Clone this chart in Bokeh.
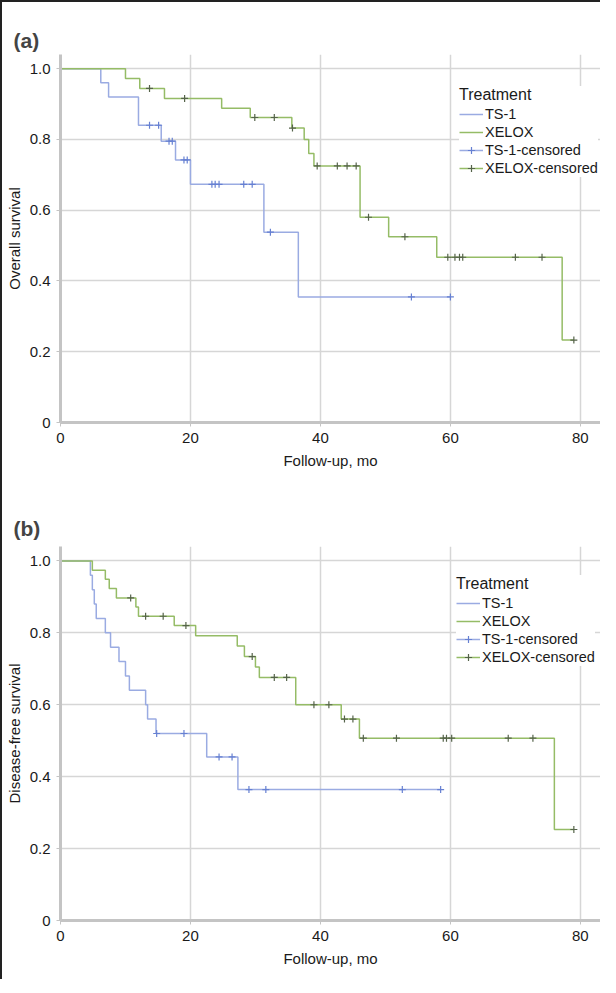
from bokeh.plotting import figure
from bokeh.models import (Range1d, FixedTicker, CustomJSTickFormatter, Legend, LegendItem)
from bokeh.layouts import column
from bokeh.embed import file_html
from bokeh.resources import INLINE

# ---------------- data ----------------
# (a) Overall survival
os_ts1_t = [0, 6.2, 7.4, 12.0, 15.5, 17.7, 20.0, 31.3, 36.6, 60.0]
os_ts1_s = [1.0, 0.96, 0.92, 0.84, 0.795, 0.742, 0.673, 0.538, 0.355, 0.355]
os_ts1_cens_t = [13.7, 15.1, 16.7, 17.2, 19.0, 19.5, 23.3, 23.8, 24.4, 28.2, 29.5, 32.3, 54.0, 60.0]
os_ts1_cens_s = [0.84, 0.84, 0.795, 0.795, 0.742, 0.742, 0.673, 0.673, 0.673, 0.673, 0.673, 0.538, 0.355, 0.355]

os_xel_t = [0, 10.0, 12.2, 16.0, 24.8, 29.2, 35.6, 37.5, 38.2, 39.0, 46.1, 50.5, 57.9, 77.2, 79.0]
os_xel_s = [1.0, 0.972, 0.944, 0.916, 0.888, 0.862, 0.832, 0.80, 0.76, 0.725, 0.58, 0.525, 0.467, 0.233, 0.233]
os_xel_cens_t = [13.7, 19.1, 29.9, 32.9, 35.7, 39.5, 42.6, 44.1, 45.5, 47.4, 53.0, 59.6, 60.7, 61.4, 61.9, 70.0, 74.1, 79.0]
os_xel_cens_s = [0.944, 0.916, 0.862, 0.862, 0.832, 0.725, 0.725, 0.725, 0.725, 0.58, 0.525,
                 0.467, 0.467, 0.467, 0.467, 0.467, 0.467, 0.233]

# (b) Disease-free survival
dfs_ts1_t = [0, 4.6, 4.9, 5.2, 5.5, 6.9, 7.7, 9.0, 10.0, 10.6, 13.1, 13.4, 14.7, 22.5, 27.3, 58.5]
dfs_ts1_s = [1.0, 0.96, 0.92, 0.88, 0.84, 0.80, 0.76, 0.72, 0.68, 0.64, 0.60, 0.56, 0.52, 0.455, 0.364, 0.364]
dfs_ts1_cens_t = [14.8, 19.0, 24.4, 26.4, 29.0, 31.6, 52.6, 58.5]
dfs_ts1_cens_s = [0.52, 0.52, 0.455, 0.455, 0.364, 0.364, 0.364, 0.364]

dfs_xel_t = [0, 4.9, 6.9, 7.5, 8.6, 11.6, 12.0, 17.5, 20.8, 27.2, 28.3, 30.0, 30.6, 36.2, 43.2, 46.0, 76.0, 79.0]
dfs_xel_s = [1.0, 0.974, 0.949, 0.923, 0.897, 0.872, 0.846, 0.82, 0.792, 0.763, 0.734, 0.705, 0.676,
             0.60, 0.56, 0.507, 0.253, 0.253]
dfs_xel_cens_t = [10.8, 13.1, 15.8, 19.3, 29.5, 32.9, 34.8, 39.0, 41.3, 43.7, 45.0, 46.6, 51.7,
                  58.9, 59.4, 60.2, 68.9, 72.7, 79.0]
dfs_xel_cens_s = [0.897, 0.846, 0.846, 0.82, 0.734, 0.676, 0.676, 0.60, 0.60, 0.56, 0.56, 0.507, 0.507,
                  0.507, 0.507, 0.507, 0.507, 0.507, 0.253]

x_ticks = [0, 20, 40, 60, 80]
y_ticks = [0, 0.2, 0.4, 0.6, 0.8, 1.0]
x_label = "Follow-up, mo"
legend_title = "Treatment"
group_names = ["TS-1", "XELOX", "TS-1-censored", "XELOX-censored"]

# ---------------- styles ----------------
FONT = "Liberation Sans"
TS1_LINE = "#9aabe2"
TS1_MARK = "#6680d2"
XEL_LINE = "#95bc66"
XEL_MARK = "#55634a"
GRID = "#d6d6d6"
AXIS = "#c4c4c4"


def panel(tag, ylabel, ts1_t, ts1_s, ts1_ct, ts1_cs, xel_t, xel_s, xel_ct, xel_cs,
          height, top, bottom, title_standoff, legend_xy):
    p = figure(width=598, height=height, output_backend="svg", toolbar_location=None,
               x_range=Range1d(0, 83.1), y_range=Range1d(0, 1.04),
               min_border_left=56, min_border_right=0, min_border_top=top,
               min_border_bottom=bottom, outline_line_color=None,
               background_fill_color="white", border_fill_color="white")
    p.title.text = tag
    p.title.text_font = FONT
    p.title.text_font_size = "21px"
    p.title.text_font_style = "bold"
    p.title.align = "left"
    p.title.offset = -47
    p.title.standoff = title_standoff

    for ax in (p.xaxis[0], p.yaxis[0]):
        ax.axis_line_color = AXIS
        ax.axis_line_width = 3
        ax.major_tick_line_color = AXIS
        ax.major_tick_line_width = 1
        ax.major_tick_out = 4
        ax.major_tick_in = 0
        ax.minor_tick_line_color = None
        ax.major_label_text_font = FONT
        ax.major_label_text_font_size = "15px"
        ax.major_label_text_color = "#1a1a1a"
        ax.axis_label_text_font = FONT
        ax.axis_label_text_font_size = "15px"
        ax.axis_label_text_font_style = "normal"
        ax.axis_label_text_color = "#1a1a1a"

    p.xaxis.ticker = FixedTicker(ticks=x_ticks)
    p.yaxis.ticker = FixedTicker(ticks=y_ticks)
    p.yaxis.formatter = CustomJSTickFormatter(code="return tick == 0 ? '0' : tick.toFixed(1);")
    p.xaxis.axis_label = x_label
    p.yaxis.axis_label = ylabel
    p.xaxis.major_label_standoff = 6
    p.yaxis.major_label_standoff = 6
    p.xaxis.axis_label_standoff = 6
    p.yaxis.axis_label_standoff = 4

    p.xgrid.ticker = FixedTicker(ticks=x_ticks)
    p.ygrid.ticker = FixedTicker(ticks=y_ticks)
    p.grid.grid_line_color = GRID
    p.grid.grid_line_width = 1.5

    r_ts1 = p.step(x=ts1_t, y=ts1_s, mode="after", line_color=TS1_LINE, line_width=1.5)
    r_xel = p.step(x=xel_t, y=xel_s, mode="after", line_color=XEL_LINE, line_width=1.5)
    r_ts1c = p.scatter(x=ts1_ct, y=ts1_cs, marker="cross", size=7, line_color=TS1_MARK, line_width=1.2)
    r_xelc = p.scatter(x=xel_ct, y=xel_cs, marker="cross", size=7, line_color=XEL_MARK, line_width=1.2)

    legend = Legend(
        title=legend_title,
        items=[LegendItem(label=group_names[0], renderers=[r_ts1]),
               LegendItem(label=group_names[1], renderers=[r_xel]),
               LegendItem(label=group_names[2], renderers=[r_ts1, r_ts1c]),
               LegendItem(label=group_names[3], renderers=[r_xel, r_xelc])],
        location=legend_xy,
        title_text_font=FONT, title_text_font_size="16px", title_text_font_style="normal",
        title_text_color="#1a1a1a", title_standoff=1,
        label_text_font=FONT, label_text_font_size="14.5px", label_text_color="#1a1a1a",
        label_height=18, glyph_height=18, glyph_width=24, label_standoff=2,
        spacing=0, padding=2, margin=0,
        background_fill_color="white", background_fill_alpha=1.0,
        border_line_color=None,
    )
    p.add_layout(legend)
    return p


pa = panel("(a)", "Overall survival", os_ts1_t, os_ts1_s, os_ts1_cens_t, os_ts1_cens_s,
           os_xel_t, os_xel_s, os_xel_cens_t, os_xel_cens_s,
           height=482, top=52, bottom=62, title_standoff=6, legend_xy=(399, 245))
pb = panel("(b)", "Disease-free survival", dfs_ts1_t, dfs_ts1_s, dfs_ts1_cens_t, dfs_ts1_cens_s,
           dfs_xel_t, dfs_xel_s, dfs_xel_cens_t, dfs_xel_cens_s,
           height=495, top=62, bottom=59, title_standoff=14, legend_xy=(396, 254))

layout = column(pa, pb, spacing=0,
                styles={"border-left": "2px solid #222", "border-top": "2px solid #222"})

open("out.html", "w").write(file_html(layout, INLINE))
